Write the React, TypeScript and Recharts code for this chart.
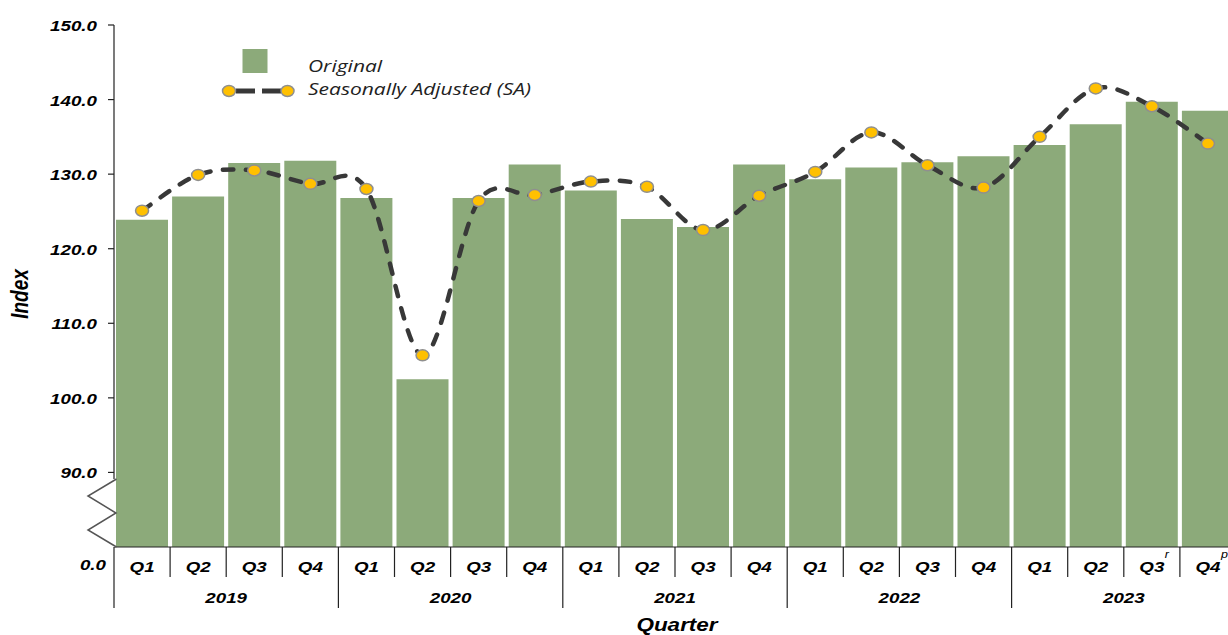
import React from 'react';
import { ComposedChart, Bar, Line, XAxis, YAxis, Legend } from 'recharts';

const years = [2019, 2020, 2021, 2022, 2023];
const quarters = ['Q1', 'Q2', 'Q3', 'Q4'];
// superscripts on the last two quarters (revised / provisional)
const revisionMarks = ['', '', '', '', '', '', '', '', '', '', '', '', '', '', '', '', '', '', 'r', 'p'];

const originalIndex = [
  123.9, 127.0, 131.5, 131.8,
  126.8, 102.5, 126.8, 131.3,
  127.8, 124.0, 122.9, 131.3,
  129.3, 130.9, 131.6, 132.4,
  133.9, 136.7, 139.7, 138.5,
];
const saIndex = [
  125.1, 129.9, 130.5, 128.7,
  128.0, 105.7, 126.4, 127.2,
  129.0, 128.3, 122.5, 127.1,
  130.3, 135.6, 131.2, 128.2,
  135.0, 141.5, 139.1, 134.1,
];
const yTickValues = [0, 90, 100, 110, 120, 130, 140, 150];

// axis is broken below 90, so 90..150 sits 80 lower on the drawing scale
const BREAK = 80;
const toChart = (v: number) => (v === 0 ? 0 : v - BREAK);
const fromChart = (v: number) => (v === 0 ? 0 : v + BREAK);

const data = originalIndex.map((v, i) => ({
  key: `${years[Math.floor(i / 4)]}-${quarters[i % 4]}`,
  quarter: quarters[i % 4],
  year: years[Math.floor(i / 4)],
  mark: revisionMarks[i],
  original: toChart(v),
  sa: toChart(saIndex[i]),
}));

const CHART_W = 1240;
const CHART_H = 635;
const LEFT = 114;
const RIGHT = 4;
const TOP = 25;
const X_AXIS_H = 88;
const BAND = (CHART_W - LEFT - RIGHT) / data.length;

const BAR_COLOR = '#8CAA7A';
const LINE_COLOR = '#383838';
const DOT_FILL = '#FFC000';
const DOT_STROKE = '#8F8F8F';
const AXIS_COLOR = '#222';
const AXIS_FONT = '"Liberation Sans", Arial, sans-serif';
const LEGEND_FONT = '"Open Sans", "Noto Sans", sans-serif';

// smoothed line like the spreadsheet one (catmull-rom through the points)
const smoothCurve = (context: any) => {
  let pts: number[][] = [];
  return {
    areaStart() {},
    areaEnd() {},
    lineStart() {
      pts = [];
    },
    point(x: number, y: number) {
      pts.push([x, y]);
    },
    lineEnd() {
      if (!pts.length) return;
      context.moveTo(pts[0][0], pts[0][1]);
      for (let i = 0; i < pts.length - 1; i++) {
        const p0 = pts[i - 1] || pts[i];
        const p1 = pts[i];
        const p2 = pts[i + 1];
        const p3 = pts[i + 2] || p2;
        context.bezierCurveTo(
          p1[0] + (p2[0] - p0[0]) / 6, p1[1] + (p2[1] - p0[1]) / 6,
          p2[0] - (p3[0] - p1[0]) / 6, p2[1] - (p3[1] - p1[1]) / 6,
          p2[0], p2[1]
        );
      }
    },
  };
};

const stretch = (x: number, y: number) => `translate(${x},${y}) scale(1.25,1)`;

const YTick = (props: any) => {
  const { x, y, payload } = props;
  const label = fromChart(payload.value).toFixed(1);
  const textStyle = { fontFamily: AXIS_FONT, fontSize: 15, fontWeight: 700, fontStyle: 'italic', fill: '#000' };
  if (payload.value === 0) {
    return (
      <g>
        <rect x={x - 2.5} y={y - 68} width={4} height={68} fill="#fff" />
        <polyline
          points={`${x + 2.5},${y - 68} ${x - 26},${y - 51} ${x + 2},${y - 34} ${x - 26},${y - 17} ${x + 2.5},${y}`}
          fill="none"
          stroke="#555"
          strokeWidth={1.5}
        />
        <text transform={stretch(x - 8, y + 22.5)} textAnchor="end" {...textStyle}>{label}</text>
      </g>
    );
  }
  return (
    <g>
      <line x1={x - 6} x2={x} y1={y} y2={y} stroke={AXIS_COLOR} strokeWidth={1.2} />
      <text transform={stretch(x - 17, y + 6)} textAnchor="end" {...textStyle}>{label}</text>
    </g>
  );
};

const XTick = (props: any) => {
  const { x, y, index } = props;
  const row = data[index];
  if (!row) return null;
  const half = BAND / 2;
  const yearEnd = index % 4 === 3;
  const textStyle = { fontFamily: AXIS_FONT, fontSize: 15, fontWeight: 700, fontStyle: 'italic', fill: '#000' };
  return (
    <g>
      {index === 0 && <line x1={x - half} x2={x - half} y1={y} y2={y + 61} stroke={AXIS_COLOR} strokeWidth={1.2} />}
      <line x1={x + half} x2={x + half} y1={y} y2={y + (yearEnd ? 61 : 30)} stroke={AXIS_COLOR} strokeWidth={1.2} />
      <text transform={stretch(x, y + 25)} textAnchor="middle" {...textStyle}>{row.quarter}</text>
      {row.mark && (
        <text transform={stretch(x + 13, y + 11)} textAnchor="start" fontFamily={AXIS_FONT} fontSize={10} fontStyle="italic" fill="#000">
          {row.mark}
        </text>
      )}
      {index % 4 === 1 && (
        <text transform={stretch(x + half, y + 56)} textAnchor="middle" {...textStyle}>{row.year}</text>
      )}
    </g>
  );
};

const renderIndexLabel = (props: any) => {
  const vb = props.viewBox || { x: 0, y: TOP, width: LEFT, height: CHART_H - TOP - X_AXIS_H };
  const cy = vb.y + vb.height / 2 + 8;
  return (
    <text
      transform={`translate(28,${cy}) scale(1.25,1) rotate(-90)`}
      textAnchor="middle"
      fontFamily={AXIS_FONT}
      fontSize={19}
      fontWeight={700}
      fontStyle="italic"
      fill="#000"
    >
      Index
    </text>
  );
};

const renderQuarterLabel = (props: any) => {
  const vb = props.viewBox || { x: LEFT, y: CHART_H - X_AXIS_H, width: CHART_W - LEFT - RIGHT, height: X_AXIS_H };
  return (
    <text
      transform={stretch(vb.x + vb.width / 2 + 2, vb.y + 84)}
      textAnchor="middle"
      fontFamily={AXIS_FONT}
      fontSize={18}
      fontWeight={700}
      fontStyle="italic"
      fill="#000"
    >
      Quarter
    </text>
  );
};

const renderLegend = (props: any) => {
  const items = props.payload || [];
  const barName = items.find((p: any) => p.dataKey === 'original')?.value ?? 'Original';
  const lineName = items.find((p: any) => p.dataKey === 'sa')?.value ?? 'Seasonally Adjusted (SA)';
  const textStyle = { fontFamily: LEGEND_FONT, fontSize: 16.8, fontStyle: 'italic', fill: '#222' };
  return (
    <svg width={340} height={64} style={{ display: 'block', overflow: 'visible' }}>
      <rect x={27.5} y={9} width={25} height={24} fill={BAR_COLOR} />
      <text transform={stretch(93, 31.5)} {...textStyle}>{barName}</text>
      <line x1={21} x2={40} y1={51} y2={51} stroke={LINE_COLOR} strokeWidth={5} />
      <line x1={47} x2={66} y1={51} y2={51} stroke={LINE_COLOR} strokeWidth={5} />
      <ellipse cx={14} cy={51} rx={6.5} ry={5.5} fill={DOT_FILL} stroke={DOT_STROKE} strokeWidth={1.5} />
      <ellipse cx={72.5} cy={51} rx={6.5} ry={5.5} fill={DOT_FILL} stroke={DOT_STROKE} strokeWidth={1.5} />
      <text transform={stretch(93, 54.5)} {...textStyle}>{lineName}</text>
    </svg>
  );
};

const SaDot = (props: any) => {
  const { cx, cy, index } = props;
  if (cx == null || cy == null) return <g key={`dot-${index}`} />;
  return (
    <ellipse key={`dot-${index}`} cx={cx} cy={cy} rx={6.5} ry={5.5} fill={DOT_FILL} stroke={DOT_STROKE} strokeWidth={1.5} />
  );
};

export default function App() {
  return (
    <div style={{ position: 'fixed', left: 0, top: 0, width: 1228, height: 635, overflow: 'hidden', background: '#fff' }}>
      <ComposedChart
        width={CHART_W}
        height={CHART_H}
        data={data}
        margin={{ top: TOP, right: RIGHT, left: 0, bottom: 0 }}
        barCategoryGap={2}
      >
        <XAxis
          dataKey="key"
          interval={0}
          height={X_AXIS_H}
          tickSize={0}
          tickMargin={0}
          tickLine={false}
          axisLine={{ stroke: AXIS_COLOR, strokeWidth: 1.2 }}
          tick={XTick}
          label={renderQuarterLabel}
        />
        <YAxis
          type="number"
          domain={[0, 70]}
          ticks={yTickValues.map(toChart)}
          interval={0}
          width={LEFT}
          tickSize={0}
          tickMargin={0}
          tickLine={false}
          axisLine={{ stroke: AXIS_COLOR, strokeWidth: 1.2 }}
          tick={YTick}
          label={renderIndexLabel}
          allowDataOverflow
        />
        <Legend
          layout="horizontal"
          verticalAlign="middle"
          align="center"
          wrapperStyle={{ top: 40, left: 215, width: 340, height: 64 }}
          content={renderLegend}
        />
        <Bar dataKey="original" name="Original" fill={BAR_COLOR} isAnimationActive={false} />
        <Line
          dataKey="sa"
          name="Seasonally Adjusted (SA)"
          type={smoothCurve as any}
          stroke={LINE_COLOR}
          strokeWidth={4.5}
          strokeDasharray="10.5 12.5"
          strokeLinecap="round"
          dot={SaDot}
          activeDot={false}
          isAnimationActive={false}
        />
      </ComposedChart>
    </div>
  );
}
